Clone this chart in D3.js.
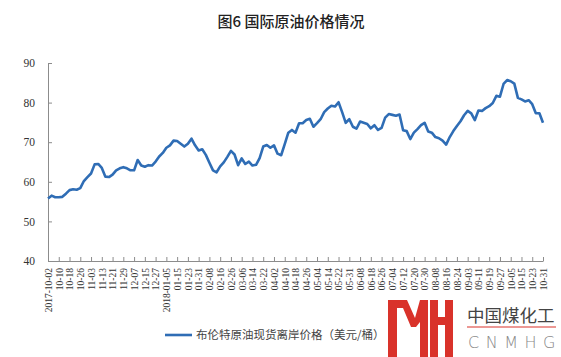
<!DOCTYPE html>
<html>
<head>
<meta charset="utf-8">
<script src="https://cdn.jsdelivr.net/npm/d3@7"></script>
<style>
    body { margin: 0; background: #fff; }
    svg { display: block; }
</style>
</head>
<body>
<div id="chart"></div>
<script>
// tick labels, one every 6 trading days
var tickLabels = ["2017-10-02", "10-10", "10-18", "10-26", "11-03", "11-13", "11-21", "11-29",
    "12-07", "12-15", "12-27", "2018-01-05", "01-15", "01-23", "01-31", "02-08", "02-16",
    "02-26", "03-06", "03-14", "03-22", "04-02", "04-10", "04-18", "04-26", "05-04", "05-14",
    "05-22", "05-31", "06-08", "06-18", "06-26", "07-04", "07-12", "07-20", "07-30", "08-08",
    "08-16", "08-24", "09-03", "09-11", "09-19", "09-27", "10-05", "10-15", "10-23", "10-31"];

// Brent spot price, every 2nd trading day (USD/bbl)
var brent = [
    55.8, 56.5, 56.1, 56.1, 56.2, 57.0, 57.9, 58.1, 58.0, 58.4,
    60.2, 61.2, 62.1, 64.4, 64.5, 63.5, 61.3, 61.2, 61.8, 62.9,
    63.4, 63.7, 63.4, 62.9, 62.9, 65.5, 64.1, 63.8, 64.2, 64.1,
    65.1, 66.4, 67.3, 68.6, 69.2, 70.4, 70.3, 69.6, 68.9, 69.6,
    70.9, 69.2, 67.9, 68.2, 66.8, 64.8, 62.9, 62.4, 63.9, 64.9,
    66.3, 67.8, 66.9, 64.2, 65.9, 64.5, 65.1, 64.1, 64.3, 66.0,
    68.9, 69.3, 68.6, 69.2, 67.1, 66.7, 69.5, 72.4, 73.1, 72.4,
    74.8, 74.8, 75.6, 75.9, 73.9, 74.8, 75.8, 77.6, 78.5, 79.2,
    79.0, 80.1, 77.6, 74.9, 75.8, 73.9, 73.4, 75.2, 74.9, 74.6,
    73.5, 74.3, 73.1, 73.6, 76.2, 77.1, 76.9, 76.7, 77.0, 73.0,
    72.8, 70.8, 72.4, 73.3, 74.3, 74.9, 72.7, 72.4, 71.3, 71.0,
    70.4, 69.4, 71.3, 72.8, 74.1, 75.3, 76.8, 77.9, 77.3, 75.6,
    78.0, 77.9, 78.6, 79.1, 79.9, 81.7, 81.5, 84.7, 85.7, 85.4,
    84.8, 81.2, 80.8, 80.3, 80.6, 79.6, 77.3, 77.3, 74.9];

var yTicks = [40, 50, 60, 70, 80, 90];
var seriesName = "布伦特原油现货离岸价格（美元/桶）";
var title = "图6  国际原油价格情况";

var width = 561, height = 357;
var margin = { top: 63, right: 18, bottom: 96, left: 48 };
var ticksPerLabel = 3;

var svg = d3.select("#chart").append("svg")
    .attr("width", width)
    .attr("height", height);

svg.append("text")
    .attr("x", 291)
    .attr("y", 27)
    .attr("text-anchor", "middle")
    .attr("font-family", "'Noto Sans CJK SC', sans-serif")
    .attr("font-weight", "500")
    .attr("font-size", "15px")
    .attr("fill", "#222")
    .text(title);

var x = d3.scaleLinear()
    .domain([0, brent.length - 1])
    .range([margin.left, width - margin.right]);

var y = d3.scaleLinear()
    .domain([40, 90])
    .range([height - margin.bottom, margin.top]);

var yAxis = svg.append("g")
    .attr("transform", "translate(" + margin.left + ",0)")
    .call(d3.axisLeft(y).tickValues(yTicks).tickSizeInner(-4).tickSizeOuter(0).tickPadding(13));

var xAxis = svg.append("g")
    .attr("transform", "translate(0," + (height - margin.bottom) + ")")
    .call(d3.axisBottom(x)
        .tickValues(d3.range(0, brent.length, ticksPerLabel))
        .tickFormat(function(d) { return tickLabels[d / ticksPerLabel]; })
        .tickSizeInner(-4).tickSizeOuter(0));

[xAxis, yAxis].forEach(function(g) {
    g.select(".domain").attr("stroke", "#8c8c8c");
    g.selectAll(".tick line").attr("stroke", "#8c8c8c");
    g.selectAll("text")
        .attr("fill", "#333")
        .attr("font-family", "'Liberation Serif', serif");
});
yAxis.selectAll("text").attr("font-size", "11.5px");

xAxis.selectAll("text")
    .attr("font-size", "9.5px")
    .attr("transform", "rotate(-90)")
    .attr("x", -7)
    .attr("y", 0)
    .attr("dy", "0.35em")
    .attr("text-anchor", "end");

var line = d3.line()
    .x(function(d, i) { return x(i); })
    .y(function(d) { return y(d); });

svg.append("path")
    .datum(brent)
    .attr("fill", "none")
    .attr("stroke", "#2f6db5")
    .attr("stroke-width", 2.6)
    .attr("stroke-linejoin", "round")
    .attr("d", line);

// legend
var legend = svg.append("g").attr("transform", "translate(165,335)");
legend.append("line")
    .attr("x1", 0).attr("x2", 27)
    .attr("stroke", "#2f6db5")
    .attr("stroke-width", 2.6);
legend.append("text")
    .attr("x", 31)
    .attr("y", 4)
    .attr("font-family", "'Noto Sans CJK SC', sans-serif")
    .attr("font-size", "11.5px")
    .attr("fill", "#444")
    .text(seriesName);

// watermark logo
var logo = svg.append("g").attr("fill", "#d9322a");
logo.append("rect").attr("x", 388).attr("y", 300).attr("width", 9).attr("height", 57);
logo.append("path").attr("d", "M397,300 L407,300 L415,318 L420,300 L428,300 L428,357 L420,357 " +
    "L420,322 L416,327 L411,327 L403,308 L397,308 Z");
logo.append("rect").attr("x", 430).attr("y", 300).attr("width", 8).attr("height", 57);
logo.append("rect").attr("x", 438).attr("y", 317).attr("width", 7).attr("height", 8);
logo.append("rect").attr("x", 445).attr("y", 300).attr("width", 8).attr("height", 57);

svg.append("text")
    .attr("x", 467)
    .attr("y", 322)
    .attr("font-family", "'Noto Sans CJK SC', sans-serif")
    .attr("font-size", "17.5px")
    .attr("fill", "#444")
    .text("中国煤化工");
svg.append("line")
    .attr("x1", 467).attr("x2", 556)
    .attr("y1", 327).attr("y2", 327)
    .attr("stroke", "#d9322a")
    .attr("stroke-width", 1.2);
svg.append("text")
    .attr("x", 468)
    .attr("y", 348)
    .attr("font-family", "'DejaVu Sans', sans-serif")
    .attr("font-weight", "200")
    .attr("font-size", "16px")
    .attr("letter-spacing", "6.5px")
    .attr("fill", "#888")
    .text("CNMHG");
</script>
</body>
</html>
